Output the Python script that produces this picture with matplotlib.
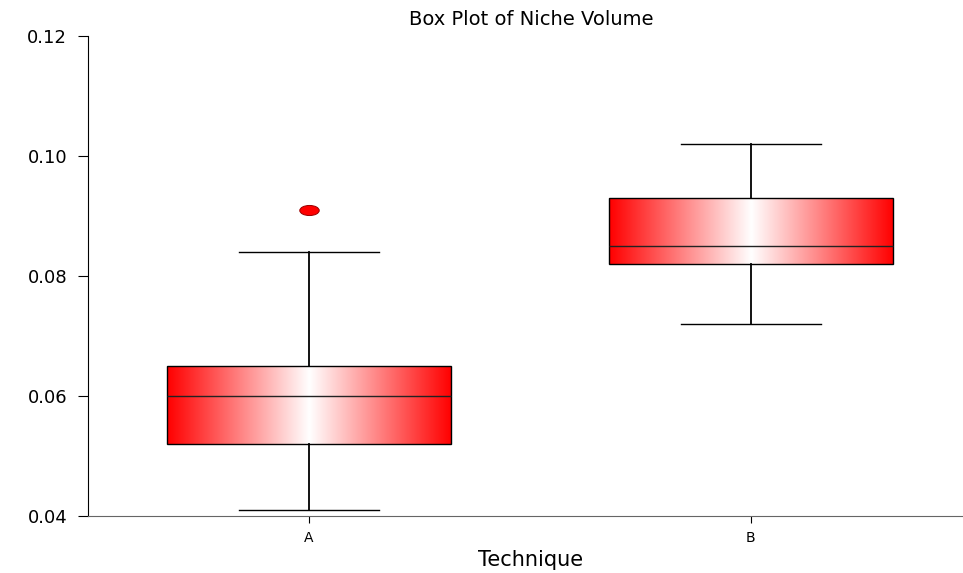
import numpy as np
import matplotlib.pyplot as plt
from matplotlib.path import Path

plt.rcParams['font.family'] = ['DejaVu Sans']

groups = ['A', 'B']
q1 = [0.052, 0.082]
medians = [0.060, 0.085]
q3 = [0.065, 0.093]
whislo = [0.041, 0.072]
whishi = [0.084, 0.102]
fliers = [[0.091], []]

stats = [dict(label=g, q1=a, med=m, q3=b, whislo=lo, whishi=hi, fliers=f)
         for g, a, m, b, lo, hi, f in zip(groups, q1, medians, q3, whislo, whishi, fliers)]

fig = plt.figure(figsize=(9.63, 5.73), dpi=100)
ax = fig.add_axes([88/963, 57/573, 875/963, 480/573])

# ellipse marker for the outlier
circ = Path.unit_circle()
ellipse = Path(circ.vertices * [1.0, 0.52], circ.codes)

res = ax.bxp(stats, positions=[1, 2], widths=0.643, capwidths=0.317,
             patch_artist=True, showfliers=True,
             boxprops=dict(facecolor='none', edgecolor='black', linewidth=1.0),
             medianprops=dict(color='#222222', linewidth=1.0),
             whiskerprops=dict(color='black', linewidth=1.3),
             capprops=dict(color='black', linewidth=1.0),
             flierprops=dict(marker=ellipse, markersize=14, markerfacecolor='#ff0000',
                             markeredgecolor='#990000', markeredgewidth=0.7))

# red-white-red horizontal gradient in each box
n = 256
t = np.abs(np.linspace(-1, 1, n))
grad = np.zeros((1, n, 3))
grad[0, :, 0] = 1.0
grad[0, :, 1] = 1 - t
grad[0, :, 2] = 1 - t
for pos, box, lo, hi in zip([1, 2], res['boxes'], q1, q3):
    im = ax.imshow(grad, extent=[pos - 0.3215, pos + 0.3215, lo, hi],
                   aspect='auto', zorder=1.5, interpolation='bilinear')
    im.set_clip_path(box)
for box in res['boxes']:
    box.set_zorder(2)
for line in res['medians']:
    line.set_zorder(2.5)

ax.set_xlim(0.5, 2.48)
ax.set_ylim(0.04, 0.12)
ax.set_yticks([0.04, 0.06, 0.08, 0.10, 0.12])
ax.set_yticklabels(['0.04', '0.06', '0.08', '0.10', '0.12'])
ax.spines['top'].set_visible(False)
ax.spines['right'].set_visible(False)
ax.spines['left'].set_color('black')
ax.spines['bottom'].set_color('#666666')
ax.tick_params(axis='y', direction='out', length=7, labelsize=13, pad=8)
ax.tick_params(axis='x', direction='out', length=5, labelsize=10, pad=6)

ax.set_title('Box Plot of Niche Volume', fontsize=14, pad=8, x=0.506)
ax.set_xlabel('Technique', fontsize=15)
ax.xaxis.set_label_coords(0.506, -0.092)
ax.xaxis.label.set_va('center')

fig.savefig('out.png', dpi=100)
